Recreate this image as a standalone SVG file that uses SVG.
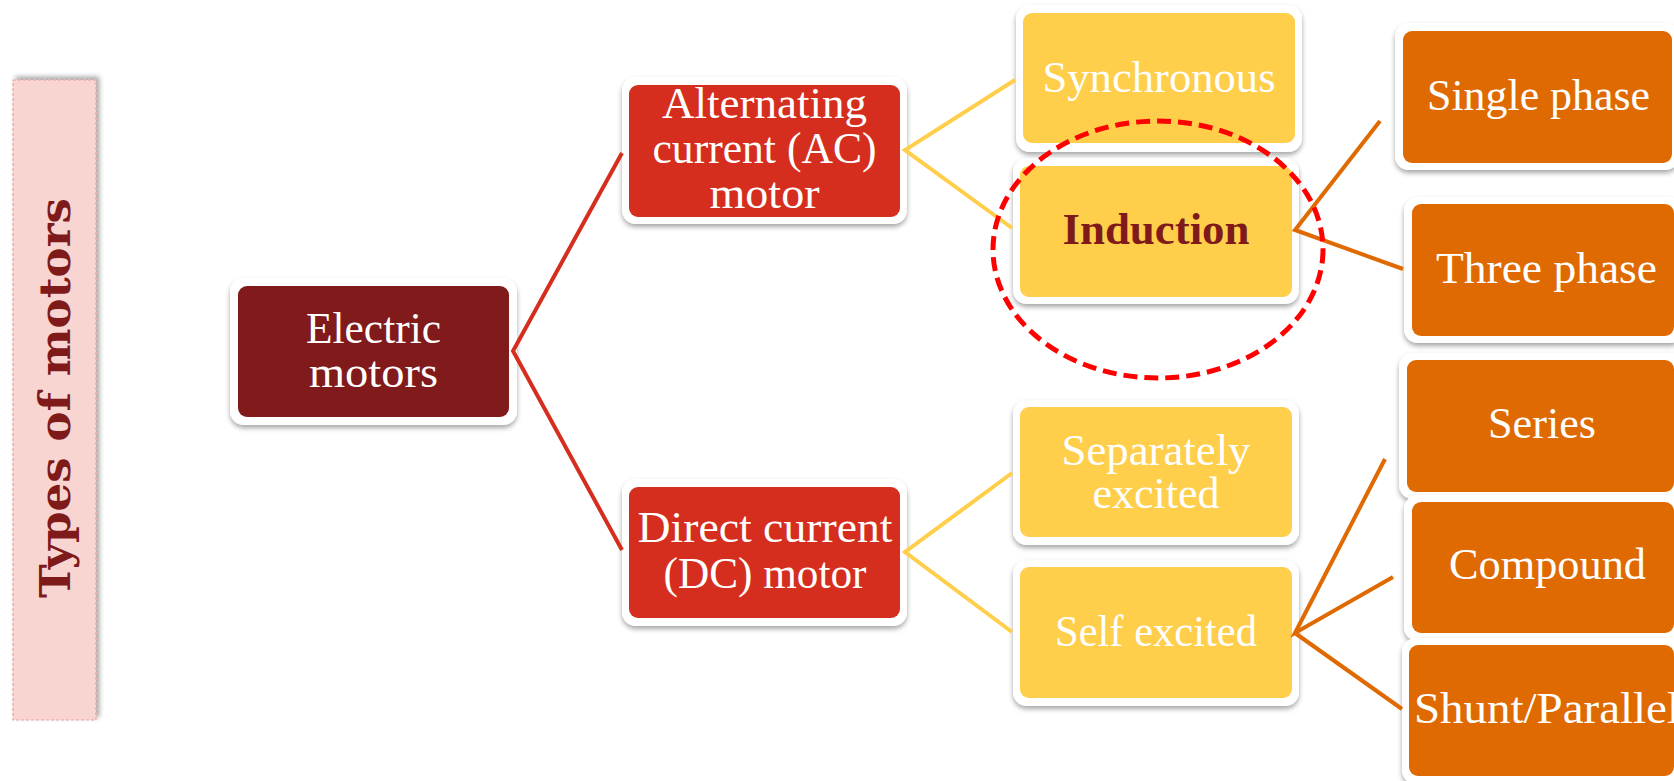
<svg xmlns="http://www.w3.org/2000/svg" width="1674" height="781" viewBox="0 0 1674 781">
<style>
.t{font-family:"Liberation Serif","Times New Roman",serif;font-size:44px;fill:#ffffff;text-anchor:middle}
.ind{font-weight:bold;fill:#7F1A1A}
.outer{fill:#ffffff;filter:url(#sh)}
.dk{fill:#811A1A}
.rd{fill:#D52E1E}
.ye{fill:#FFCE4A}
.or{fill:#E06A02}
.c-red{stroke:#D52E1E;stroke-width:4;fill:none}
.c-ye{stroke:#FFCE4A;stroke-width:4;fill:none}
.c-or{stroke:#E06A02;stroke-width:4;fill:none}
</style>
<defs>
<filter id="sh" x="-10%" y="-10%" width="120%" height="130%">
<feDropShadow dx="0" dy="3" stdDeviation="2.5" flood-color="#000000" flood-opacity="0.35"/>
</filter>
<filter id="sh2" x="-20%" y="-5%" width="140%" height="110%">
<feDropShadow dx="3" dy="-3" stdDeviation="2.5" flood-color="#000000" flood-opacity="0.35"/>
</filter>
</defs>
<rect width="1674" height="781" fill="#ffffff"/>

<g id="title">
<rect x="13" y="80" width="83" height="640" fill="#F9D5D2" stroke="#E8A3A0" stroke-width="1.2" stroke-dasharray="3 2" filter="url(#sh2)"/>
<text transform="translate(70,398) rotate(-90)" x="0" y="0" text-anchor="middle" font-family="'DejaVu Serif','Liberation Serif',serif" font-weight="bold" font-size="43" fill="#7F1A1A" textLength="400" lengthAdjust="spacingAndGlyphs">Types of motors</text>
</g>

<g id="node-electric">
<rect class="outer" x="230" y="278" width="287" height="147" rx="14"/>
<rect class="dk" x="238" y="286" width="271" height="131" rx="9"/>
<text class="t" x="373.5" y="343" textLength="135" lengthAdjust="spacingAndGlyphs">Electric</text>
<text class="t" x="373.5" y="387" textLength="129" lengthAdjust="spacingAndGlyphs">motors</text>
</g>

<g id="node-ac">
<rect class="outer" x="622" y="77" width="285" height="147" rx="14"/>
<rect class="rd" x="629" y="85" width="271" height="132" rx="9"/>
<text class="t" x="764.5" y="118" textLength="205" lengthAdjust="spacingAndGlyphs">Alternating</text>
<text class="t" x="764.5" y="163" textLength="224" lengthAdjust="spacingAndGlyphs">current (AC)</text>
<text class="t" x="764.5" y="208" textLength="110" lengthAdjust="spacingAndGlyphs">motor</text>
</g>

<g id="node-dc">
<rect class="outer" x="622" y="479" width="285" height="147" rx="14"/>
<rect class="rd" x="629" y="487" width="271" height="131" rx="9"/>
<text class="t" x="765" y="542" textLength="255" lengthAdjust="spacingAndGlyphs">Direct current</text>
<text class="t" x="765" y="588" textLength="203" lengthAdjust="spacingAndGlyphs">(DC) motor</text>
</g>

<g id="node-synchronous">
<rect class="outer" x="1016" y="5" width="286" height="147" rx="14"/>
<rect class="ye" x="1023" y="13" width="272" height="130" rx="9"/>
<text class="t" x="1159" y="92" textLength="233" lengthAdjust="spacingAndGlyphs">Synchronous</text>
</g>

<g id="node-induction">
<rect class="outer" x="1013" y="158" width="286" height="146" rx="14"/>
<rect class="ye" x="1020" y="166" width="272" height="131" rx="9"/>
<text class="t ind" x="1156" y="244" textLength="187" lengthAdjust="spacingAndGlyphs">Induction</text>
</g>

<g id="node-separately">
<rect class="outer" x="1013" y="400" width="286" height="145" rx="14"/>
<rect class="ye" x="1020" y="407" width="272" height="130" rx="9"/>
<text class="t" x="1156" y="465" textLength="189" lengthAdjust="spacingAndGlyphs">Separately</text>
<text class="t" x="1156" y="508" textLength="127" lengthAdjust="spacingAndGlyphs">excited</text>
</g>

<g id="node-self">
<rect class="outer" x="1013" y="560" width="286" height="146" rx="14"/>
<rect class="ye" x="1020" y="567" width="272" height="131" rx="9"/>
<text class="t" x="1156" y="646" textLength="202" lengthAdjust="spacingAndGlyphs">Self excited</text>
</g>

<g id="node-single">
<rect class="outer" x="1395" y="23" width="284" height="147" rx="14"/>
<rect class="or" x="1403" y="31" width="269" height="132" rx="9"/>
<text class="t" x="1538.5" y="110" textLength="223" lengthAdjust="spacingAndGlyphs">Single phase</text>
</g>

<g id="node-three">
<rect class="outer" x="1404" y="197" width="280" height="146" rx="14"/>
<rect class="or" x="1412" y="204" width="262" height="132" rx="9"/>
<text class="t" x="1546.5" y="283" textLength="221" lengthAdjust="spacingAndGlyphs">Three phase</text>
</g>

<g id="node-series">
<rect class="outer" x="1399" y="353" width="285" height="146" rx="14"/>
<rect class="or" x="1407" y="360" width="267" height="132" rx="9"/>
<text class="t" x="1542" y="438" textLength="108" lengthAdjust="spacingAndGlyphs">Series</text>
</g>

<g id="node-compound">
<rect class="outer" x="1404" y="495" width="280" height="146" rx="14"/>
<rect class="or" x="1412" y="502" width="262" height="131" rx="9"/>
<text class="t" x="1547.5" y="579" textLength="197" lengthAdjust="spacingAndGlyphs">Compound</text>
</g>

<g id="node-shunt">
<rect class="outer" x="1402" y="638" width="282" height="146" rx="14"/>
<rect class="or" x="1409" y="645" width="265" height="131" rx="9"/>
<text class="t" x="1414" y="723" style="text-anchor:start" textLength="266" lengthAdjust="spacingAndGlyphs">Shunt/Parallel</text>
</g>

<g id="connectors">
<polyline class="c-red" points="622,153 513,351 622,550"/>
<polyline class="c-ye" points="1015,80 905,150 1012,228"/>
<polyline class="c-ye" points="1012,473 905,552 1012,632"/>
<polyline class="c-or" points="1380,121 1295,230 1403,269"/>
<polyline class="c-or" points="1385,459 1295,633 1393,577"/>
<line class="c-or" x1="1295" y1="633" x2="1402" y2="709"/>
</g>

<g id="highlight">
<ellipse cx="1158" cy="249.5" rx="165" ry="128.5" fill="none" stroke="#FF0000" stroke-width="5" stroke-dasharray="14 7"/>
</g>
</svg>
